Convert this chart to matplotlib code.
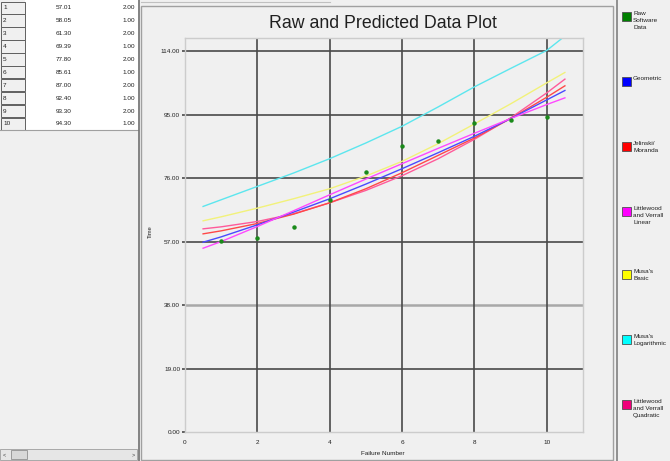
import numpy as np
import matplotlib.pyplot as plt
from matplotlib.patches import Rectangle

plt.rcParams['font.family'] = ['Liberation Sans', 'DejaVu Sans']

# raw data (table on the left)
failure_no = [1, 2, 3, 4, 5, 6, 7, 8, 9, 10]
raw_time = [57.01, 58.05, 61.30, 69.39, 77.80, 85.61, 87.00, 92.40, 93.30, 94.30]
raw_flag = [2.00, 1.00, 2.00, 1.00, 2.00, 1.00, 2.00, 1.00, 2.00, 1.00]

# predicted curves
pred_x = [0.5, 1, 2, 3, 4, 5, 6, 7, 8, 9, 10, 10.5]
geometric = [56.8, 58.4, 62.0, 65.8, 69.8, 74.2, 78.8, 83.6, 88.5, 93.8, 99.4, 102.2]
jelinski = [59.3, 60.2, 62.4, 65.2, 68.6, 72.8, 77.6, 82.8, 88.0, 93.8, 100.2, 103.6]
lv_linear = [55.0, 57.0, 61.5, 66.2, 71.0, 75.7, 80.3, 84.9, 89.4, 93.8, 98.0, 100.0]
musa_basic = [63.2, 64.4, 67.0, 69.8, 72.8, 76.6, 81.0, 86.3, 92.2, 98.2, 104.5, 107.6]
musa_log = [67.5, 69.5, 73.5, 77.5, 81.8, 86.5, 91.5, 97.3, 103.3, 108.8, 114.2, 118.5]
lv_quad = [60.8, 61.4, 63.0, 65.3, 68.6, 72.3, 76.7, 81.8, 87.6, 94.0, 101.5, 105.6]

yticks = [0, 19, 38, 57, 76, 95, 114]
xticks = [0, 2, 4, 6, 8, 10]

legend_names = ["Raw\nSoftware\nData", "Geometric", "Jelinski/\nMoranda",
                "Littlewood\nand Verrall\nLinear", "Musa's\nBasic",
                "Musa's\nLogarithmic", "Littlewood\nand Verrall\nQuadratic"]
legend_cols = ['#008000', '#0000ff', '#ff0000', '#ff00ff', '#ffff00', '#00ffff', '#f0007a']

fig = plt.figure(figsize=(6.7, 4.61), dpi=100)
fig.patch.set_facecolor('#f0f0f0')

# background axes in pixel coords for the window pieces
bg = fig.add_axes([0, 0, 1, 1])
bg.set_xlim(0, 670)
bg.set_ylim(461, 0)
bg.axis('off')

# left table panel
bg.add_patch(Rectangle((25, 0), 113, 130, fc='white', ec='none'))
bg.plot([0, 138], [130, 130], color='#a0a0a0', lw=0.8)
for i in range(len(raw_time)):
    yc = 7.8 + 12.9 * i
    bg.add_patch(Rectangle((1, yc - 6.2), 24, 12.4, fc='#f0f0f0', ec='#606060', lw=0.7))
    bg.text(3, yc, str(failure_no[i]), fontsize=4.6, ha='left', va='center', color='#202020')
    bg.text(64, yc, '%.2f' % raw_time[i], fontsize=4.6, ha='center', va='center', color='#202020')
    bg.text(135, yc, '%.2f' % raw_flag[i], fontsize=4.6, ha='right', va='center', color='#202020')
bg.plot([139, 139], [0, 461], color='#707070', lw=1.2)

# scrollbar at bottom of the table panel
bg.add_patch(Rectangle((0, 449), 137, 11, fc='#e6e6e6', ec='#a8a8a8', lw=0.7))
bg.add_patch(Rectangle((11, 450), 16, 9, fc='#d8d8d8', ec='#909090', lw=0.6))
bg.text(4, 454.5, '<', fontsize=4, ha='center', va='center', color='#404040')
bg.text(133, 454.5, '>', fontsize=4, ha='center', va='center', color='#404040')

# chart panel frame
bg.add_patch(Rectangle((141, 6), 472, 454, fc='#f0f0f0', ec='#a0a0a0', lw=1))
bg.plot([141, 330], [2, 2], color='#c0c0c0', lw=0.8)

# legend panel
bg.plot([617, 617], [0, 461], color='#808080', lw=1.2)
leg_top = [12, 77, 142, 207, 270, 335, 400]
for name, col, yt in zip(legend_names, legend_cols, leg_top):
    bg.add_patch(Rectangle((622, yt), 9, 9, fc=col, ec='#505050', lw=0.6))
    bg.text(633, yt - 1, name, fontsize=4.6, ha='left', va='top', color='#202020',
            linespacing=1.5)

# title and axis labels
bg.text(383, 24, 'Raw and Predicted Data Plot', fontsize=12.8, ha='center', va='center',
         color='#202020')
bg.text(383, 453, 'Failure Number', fontsize=4.6, ha='center', va='center', color='#202020')
bg.text(150, 232, 'Time', fontsize=4.2, ha='center', va='center', rotation=90, color='#202020')

# plot area
ax = fig.add_axes([185 / 670, 1 - 432 / 461, (583 - 185) / 670, (432 - 37.7) / 461])
ax.set_facecolor('#f0f0f0')
ax.set_xlim(0, 11)
ax.set_ylim(0, 118)
for s in ax.spines.values():
    s.set_color('#cccccc')
    s.set_linewidth(1)

for y in yticks[1:]:
    if y == 38:
        ax.axhline(y, color='#a8a8a8', lw=1.8, zorder=1)
    else:
        ax.axhline(y, color='#4a4a4a', lw=1.2, zorder=1)
for x in xticks[1:]:
    ax.axvline(x, color='#4a4a4a', lw=1.2, zorder=1)

ax.set_yticks(yticks)
ax.set_yticklabels(['%.2f' % v for v in yticks])
ax.set_xticks(xticks)
ax.set_xticklabels([str(v) for v in xticks])
ax.tick_params(axis='y', length=2, width=1.2, color='#4a4a4a', labelsize=4.6, pad=1.5,
               labelcolor='#202020')
ax.tick_params(axis='x', length=0, labelsize=4.6, pad=6, labelcolor='#202020')

ax.plot(pred_x, musa_log, color='#5ce6ee', lw=1, zorder=2)
ax.plot(pred_x, musa_basic, color='#f2f27a', lw=1, zorder=2)
ax.plot(pred_x, lv_quad, color='#ff5a9a', lw=1, zorder=2)
ax.plot(pred_x, jelinski, color='#ff4848', lw=1, zorder=2)
ax.plot(pred_x, geometric, color='#4a4aff', lw=1, zorder=2)
ax.plot(pred_x, lv_linear, color='#ff48ff', lw=1, zorder=2)

ax.plot(failure_no, raw_time, 'o', ms=2.2, color='#1a8a1a', ls='none', zorder=3)

plt.savefig('out.png', dpi=100, facecolor=fig.get_facecolor())
